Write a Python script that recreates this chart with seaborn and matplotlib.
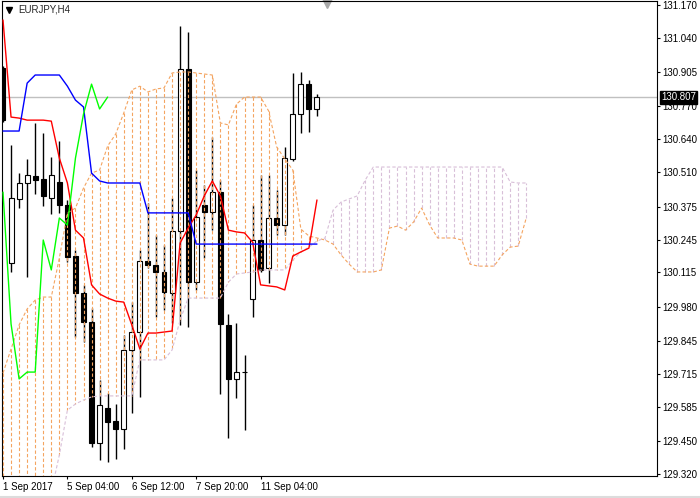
import numpy as np
import matplotlib
matplotlib.use("Agg")
import matplotlib.pyplot as plt
import seaborn as sns
from matplotlib.transforms import blended_transform_factory

# EURJPY H4 candles (price values)
opens = np.array([130.921, 130.152, 130.405, 130.468, 130.495, 130.484, 130.409, 130.472, 130.381, 130.180,
                  130.034, 129.920, 129.442, 129.580, 129.529, 129.498, 129.809, 129.880, 130.160, 130.144,
                  130.117, 130.034, 130.279, 130.918, 130.077, 130.381, 130.353, 130.432, 129.908, 129.695,
                  129.722, 130.010, 130.243, 130.133, 130.330, 130.302, 130.563, 130.740, 130.858, 130.760])
highs = np.array([130.929, 130.618, 130.507, 130.563, 130.705, 130.665, 130.570, 130.634, 130.401, 130.204,
                  130.066, 129.975, 129.691, 129.640, 129.596, 129.868, 129.998, 130.204, 130.389, 130.263,
                  130.223, 130.409, 131.087, 131.063, 130.519, 130.460, 130.649, 130.480, 129.951, 129.916,
                  129.789, 130.381, 130.499, 130.499, 130.440, 130.610, 130.902, 130.906, 130.874, 130.819])
lows = np.array([130.708, 130.117, 130.369, 130.097, 130.424, 130.377, 130.346, 130.350, 130.156, 129.860,
                 129.841, 129.427, 129.375, 129.367, 129.379, 129.419, 129.561, 129.624, 130.133, 129.939,
                 129.967, 129.916, 129.908, 129.900, 130.046, 130.172, 130.282, 129.636, 129.462, 129.620,
                 129.494, 129.939, 130.117, 130.073, 130.263, 130.263, 130.555, 130.665, 130.669, 130.732])
closes = np.array([130.716, 130.409, 130.468, 130.499, 130.480, 130.417, 130.499, 130.381, 130.176, 130.034,
                   129.920, 129.442, 129.592, 129.525, 129.498, 129.809, 129.880, 130.160, 130.144, 130.117,
                   130.038, 130.279, 130.918, 130.077, 130.334, 130.353, 130.432, 129.912, 129.695, 129.722,
                   129.722, 130.243, 130.125, 130.330, 130.302, 130.566, 130.740, 130.858, 130.760, 130.807])

# Ichimoku lines
tenkan = np.array([131.111, 130.728, 130.724, 130.716, 130.716, 130.716, 130.712, 130.566, 130.468, 130.282,
                   130.251, 130.066, 130.030, 130.014, 130.002, 129.998, 129.908, 129.813, 129.876, 129.876,
                   129.880, 129.884, 130.231, 130.290, 130.342, 130.417, 130.476, 130.417, 130.282, 130.275,
                   130.271, 130.235, 130.066, 130.062, 130.058, 130.046, 130.180, 130.196, 130.211, 130.401])
kijun = np.array([130.673, 130.673, 130.673, 130.862, 130.894, 130.894, 130.894, 130.894, 130.850, 130.795,
                  130.768, 130.507, 130.476, 130.468, 130.468, 130.468, 130.468, 130.468, 130.350, 130.350,
                  130.350, 130.350, 130.350, 130.350, 130.227, 130.227, 130.227, 130.227, 130.227, 130.227,
                  130.227, 130.227, 130.227, 130.227, 130.227, 130.227, 130.227, 130.227, 130.227, 130.227])
span_a = np.array([129.718, 129.813, 129.908, 129.971, 130.006, 130.018, 130.018, 130.172, 130.350, 130.369,
                   130.448, 130.507, 130.519, 130.614, 130.661, 130.744, 130.835, 130.850, 130.827, 130.839,
                   130.843, 130.902, 130.906, 130.906, 130.902, 130.898, 130.894, 130.705, 130.697, 130.779,
                   130.807, 130.807, 130.807, 130.752, 130.610, 130.563, 130.519, 130.286, 130.259, 130.251,
                   130.243, 130.227, 130.184, 130.148, 130.117, 130.117, 130.117, 130.125, 130.290, 130.298,
                   130.282, 130.314, 130.369, 130.302, 130.251, 130.251, 130.251, 130.243, 130.148, 130.140,
                   130.140, 130.140, 130.184, 130.215, 130.219, 130.330])
span_b = np.array([129.250, 129.250, 129.250, 129.250, 129.250, 129.250, 129.250, 129.395, 129.572, 129.596,
                   129.612, 129.624, 129.628, 129.628, 129.628, 129.628, 129.628, 129.770, 129.770, 129.770,
                   129.770, 129.809, 129.927, 130.014, 130.014, 130.014, 130.014, 130.014, 130.077, 130.109,
                   130.113, 130.117, 130.125, 130.125, 130.125, 130.125, 130.164, 130.196, 130.215, 130.239,
                   130.251, 130.361, 130.393, 130.405, 130.417, 130.480, 130.531, 130.531, 130.531, 130.531,
                   130.531, 130.531, 130.531, 130.531, 130.531, 130.531, 130.531, 130.531, 130.531, 130.531,
                   130.531, 130.531, 130.531, 130.472, 130.468, 130.468])

x_tick_pos = [0, 8, 16, 24, 32]
x_labels = ["1 Sep 2017", "5 Sep 04:00", "6 Sep 12:00", "7 Sep 20:00", "11 Sep 04:00"]
y_ticks = [131.170, 131.040, 130.905, 130.770, 130.640, 130.510, 130.375, 130.245,
           130.115, 129.980, 129.845, 129.715, 129.585, 129.450, 129.320]

sns.set_style("white")
plt.rcParams['font.family'] = ['Liberation Sans', 'DejaVu Sans']

fig = plt.figure(figsize=(7.0, 4.98), dpi=100)
ax = fig.add_axes([2 / 700, 22 / 498, 655 / 700, 475 / 498])

bars = np.arange(len(closes))
span_x = np.arange(len(span_a))

# current price line
ax.axhline(closes[-1], color="#c0c0c0", lw=1, zorder=1)

# candles
ax.vlines(bars, lows, highs, color="black", lw=1, zorder=2)
up = closes >= opens
ax.bar(bars, closes - opens, bottom=opens, width=0.62,
       color=np.where(up, "white", "black"), edgecolor="black", linewidth=0.8, zorder=2.5)

# kumo hatch and span lines
dash = (0, (3, 2))
cloud_col = np.where(span_a >= span_b, "#f4a460", "#d8bfd8")
ax.vlines(span_x, span_a, span_b, colors=cloud_col, linestyles=dash, lw=0.8, zorder=3)
sns.lineplot(x=span_x, y=span_a, color="#f4a460", lw=0.8, linestyle=dash, ax=ax, zorder=3)
sns.lineplot(x=span_x, y=span_b, color="#d8bfd8", lw=0.8, linestyle=dash, ax=ax, zorder=3)

# tenkan / kijun / chikou
sns.lineplot(x=bars, y=tenkan, color="red", lw=1, ax=ax, zorder=4)
sns.lineplot(x=bars, y=kijun, color="blue", lw=1, ax=ax, zorder=4)
sns.lineplot(x=bars[:len(closes) - 26], y=closes[26:], color="#00ff00", lw=1, ax=ax, zorder=4)

ax.set_xlim(-0.124, 81.24)
ax.set_ylim(129.312, 131.186)
ax.set_xlabel("")
ax.set_ylabel("")

ax.yaxis.tick_right()
ax.set_yticks(y_ticks)
ax.set_yticklabels([f"{v:.3f}" for v in y_ticks])
ax.set_xticks(x_tick_pos)
ax.set_xticklabels(x_labels, ha="left")
ax.tick_params(axis="both", direction="out", length=2.5, width=0.8, color="black",
               labelsize=7, pad=1.5, labelcolor="black")
ax.tick_params(axis="y", right=True, labelright=True, left=False, labelleft=False)
ax.tick_params(axis="x", bottom=True, labelbottom=True)
for s in ax.spines.values():
    s.set_color("black")
    s.set_linewidth(0.8)

# price label
trans = blended_transform_factory(ax.transAxes, ax.transData)
ax.text(1.0 + 4 / 655, closes[-1], f"{closes[-1]:.3f}", transform=trans, color="white", fontsize=7,
        va="center", ha="left", zorder=10, clip_on=False,
        bbox=dict(boxstyle="square,pad=0.15", fc="black", ec="black"))

# symbol caption
ax.plot([7 / 655], [466 / 475], marker="v", color="black", ms=4, transform=ax.transAxes)
ax.text(16 / 655, 466 / 475, "EURJPY,H4", transform=ax.transAxes, fontsize=7, va="center", ha="left")
ax.plot([0.496], [0.996], marker="v", color="#a8a8a8", ms=7, transform=ax.transAxes, clip_on=False)

fig.add_artist(plt.Line2D([0, 1], [1 / 498, 1 / 498], transform=fig.transFigure, color="#dcdcdc", lw=1.5))

fig.savefig("out.png", dpi=100)
